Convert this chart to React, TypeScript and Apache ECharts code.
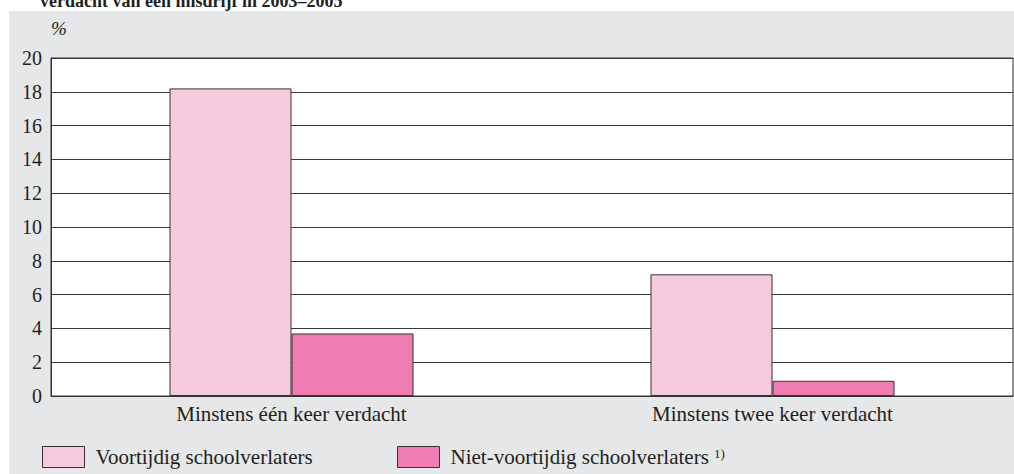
import React, { useEffect, useRef } from "react";
import * as echarts from "echarts";

const title = "verdacht van een misdrijf in 2003–2005";
const categories = ["Minstens één keer verdacht", "Minstens twee keer verdacht"];
const seriesNames = ["Voortijdig schoolverlaters", "Niet-voortijdig schoolverlaters"];
const voortijdig = [18.2, 7.2];
const nietVoortijdig = [3.7, 0.9];
const yTicks = { min: 0, max: 20, interval: 2 };

const FONT = "'Liberation Serif', serif";
const TEXT = "#231f20";

export default function App() {
  const ref = useRef<HTMLDivElement>(null);
  useEffect(() => {
    document.body.style.margin = "0";
    const chart = echarts.init(ref.current!, null, { renderer: "svg" });
    chart.setOption({
      animation: false,
      backgroundColor: "#ffffff",
      graphic: [
        {
          type: "rect",
          z: -10,
          shape: { x: 9, y: 11, width: 1005, height: 463 },
          style: { fill: "#e6e7e8" },
          silent: true,
        },
        {
          type: "text",
          x: 40,
          y: -8,
          style: {
            text: title,
            font: `bold 18px ${FONT}`,
            fill: TEXT,
            verticalAlign: "top",
          },
        },
      ],
      grid: {
        left: 51,
        right: 1,
        top: 58,
        bottom: 78,
        show: true,
        backgroundColor: "#ffffff",
        borderColor: "#333",
        borderWidth: 1,
      },
      legend: [
        {
          data: [seriesNames[0]],
          left: 42,
          top: 446,
          padding: 0,
          icon: "rect",
          itemWidth: 42,
          itemHeight: 21,
          textStyle: { fontFamily: FONT, fontSize: 21, color: TEXT, padding: [0, 0, 0, 6] },
          itemStyle: { borderColor: "#333", borderWidth: 1 },
        },
        {
          data: [seriesNames[1]],
          left: 397,
          top: 446,
          padding: 0,
          icon: "rect",
          itemWidth: 42,
          itemHeight: 21,
          formatter: (n: string) => `${n} {sup|1)}`,
          textStyle: {
            fontFamily: FONT,
            fontSize: 21,
            color: TEXT,
            padding: [0, 0, 0, 6],
            rich: { sup: { fontFamily: FONT, fontSize: 13, color: TEXT, verticalAlign: "top", padding: [0, 0, 6, 0] } },
          },
          itemStyle: { borderColor: "#333", borderWidth: 1 },
        },
      ],
      xAxis: {
        type: "category",
        data: categories,
        axisLine: { lineStyle: { color: "#333", width: 1 } },
        axisTick: { show: false },
        axisLabel: { fontFamily: FONT, fontSize: 21, color: TEXT, margin: 7 },
      },
      yAxis: {
        type: "value",
        min: yTicks.min,
        max: yTicks.max,
        interval: yTicks.interval,
        name: "%",
        nameLocation: "end",
        nameGap: 20,
        nameTextStyle: { fontFamily: FONT, fontSize: 19, fontStyle: "italic", color: TEXT, align: "left" },
        axisLine: { show: true, lineStyle: { color: "#333", width: 1 } },
        axisTick: { show: false },
        axisLabel: { fontFamily: FONT, fontSize: 20, color: TEXT, margin: 9 },
        splitLine: { lineStyle: { color: "#3a3a3a", width: 1 } },
      },
      series: [
        {
          name: seriesNames[0],
          type: "bar",
          data: voortijdig,
          barWidth: 122,
          barGap: "0%",
          itemStyle: { color: "#f6c9de", borderColor: "#333", borderWidth: 1 },
        },
        {
          name: seriesNames[1],
          type: "bar",
          data: nietVoortijdig,
          barWidth: 122,
          barGap: "0%",
          itemStyle: { color: "#f07db1", borderColor: "#333", borderWidth: 1 },
        },
      ],
    });
    return () => chart.dispose();
  }, []);
  return <div ref={ref} style={{ width: 1014, height: 474 }} />;
}
